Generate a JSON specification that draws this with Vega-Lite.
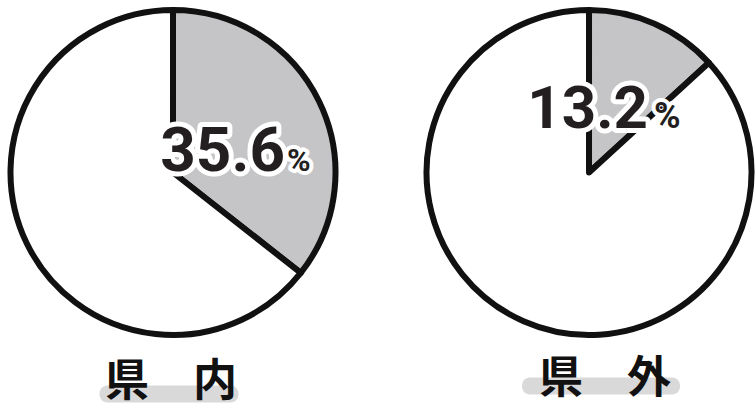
{
  "$schema": "https://vega.github.io/schema/vega-lite/v6.json",
  "background": "white",
  "padding": {"left": 7, "top": 0, "right": 0, "bottom": 0},
  "spacing": 0,
  "config": {"view": {"stroke": null}, "concat": {"spacing": 0}},
  "datasets": {
    "shares": [
      {"region": "県内", "label": "県\u3000内", "part": "yes", "value": 35.6},
      {"region": "県内", "label": "県\u3000内", "part": "no", "value": 64.4},
      {"region": "県外", "label": "県\u3000外", "part": "yes", "value": 13.2},
      {"region": "県外", "label": "県\u3000外", "part": "no", "value": 86.8}
    ]
  },
  "vconcat": [
    {
      "width": 748,
      "height": 345,
      "data": {"name": "shares"},
      "encoding": {
        "x": {"field": "region", "type": "nominal", "sort": ["県内", "県外"], "scale": {"type": "point", "padding": 0.399}, "axis": null}
      },
      "layer": [
        {
          "transform": [{"stack": "value", "groupby": ["region"], "sort": [{"field": "part", "order": "descending"}], "as": ["t0", "t1"]}],
          "mark": {"type": "arc", "radius": 162.5, "stroke": "#111111", "strokeWidth": 6, "strokeJoin": "round"},
          "encoding": {
            "theta": {"field": "t0", "type": "quantitative", "stack": null, "scale": {"domain": [0, 100], "range": [0, 6.2832]}},
            "theta2": {"field": "t1"},
            "color": {"field": "part", "type": "nominal", "scale": {"domain": ["yes", "no"], "range": ["#c5c5c7", "#ffffff"]}, "legend": null}
          }
        },
        {
          "transform": [{"filter": "datum.region === '県内' && datum.part === 'yes'"}],
          "mark": {"type": "text", "font": "Roboto", "fontWeight": 700, "fontSize": 62, "align": "right", "baseline": "alphabetic", "dx": 112, "dy": -2, "fill": "white", "stroke": "white", "strokeWidth": 10, "strokeJoin": "round"},
          "encoding": {"text": {"field": "value", "type": "quantitative", "format": ".1f"}}
        },
        {
          "transform": [{"filter": "datum.region === '県内' && datum.part === 'yes'"}],
          "mark": {"type": "text", "font": "Roboto", "fontWeight": 700, "fontSize": 32, "align": "left", "baseline": "alphabetic", "dx": 114, "dy": -2, "text": "%", "fill": "white", "stroke": "white", "strokeWidth": 8, "strokeJoin": "round"},
          "encoding": {}
        },
        {
          "transform": [{"filter": "datum.region === '県内' && datum.part === 'yes'"}],
          "mark": {"type": "text", "font": "Roboto", "fontWeight": 700, "fontSize": 62, "align": "right", "baseline": "alphabetic", "dx": 112, "dy": -2, "fill": "#231f20"},
          "encoding": {"text": {"field": "value", "type": "quantitative", "format": ".1f"}}
        },
        {
          "transform": [{"filter": "datum.region === '県内' && datum.part === 'yes'"}],
          "mark": {"type": "text", "font": "Roboto", "fontWeight": 700, "fontSize": 32, "align": "left", "baseline": "alphabetic", "dx": 114, "dy": -2, "text": "%", "fill": "#231f20"},
          "encoding": {}
        },
        {
          "transform": [{"filter": "datum.region === '県外' && datum.part === 'yes'"}],
          "mark": {"type": "text", "font": "Roboto", "fontWeight": 700, "fontSize": 60, "align": "right", "baseline": "alphabetic", "dx": 59, "dy": -45, "fill": "white", "stroke": "white", "strokeWidth": 10, "strokeJoin": "round"},
          "encoding": {"text": {"field": "value", "type": "quantitative", "format": ".1f"}}
        },
        {
          "transform": [{"filter": "datum.region === '県外' && datum.part === 'yes'"}],
          "mark": {"type": "text", "font": "Roboto", "fontWeight": 700, "fontSize": 36, "align": "left", "baseline": "alphabetic", "dx": 65, "dy": -45, "text": "%", "fill": "white", "stroke": "white", "strokeWidth": 8, "strokeJoin": "round"},
          "encoding": {}
        },
        {
          "transform": [{"filter": "datum.region === '県外' && datum.part === 'yes'"}],
          "mark": {"type": "text", "font": "Roboto", "fontWeight": 700, "fontSize": 60, "align": "right", "baseline": "alphabetic", "dx": 59, "dy": -45, "fill": "#231f20"},
          "encoding": {"text": {"field": "value", "type": "quantitative", "format": ".1f"}}
        },
        {
          "transform": [{"filter": "datum.region === '県外' && datum.part === 'yes'"}],
          "mark": {"type": "text", "font": "Roboto", "fontWeight": 700, "fontSize": 36, "align": "left", "baseline": "alphabetic", "dx": 65, "dy": -45, "text": "%", "fill": "#231f20"},
          "encoding": {}
        }
      ]
    },
    {
      "width": 748,
      "height": 66,
      "data": {"name": "shares"},
      "transform": [{"filter": "datum.part === 'yes'"}],
      "encoding": {
        "x": {"field": "region", "type": "nominal", "sort": ["県内", "県外"], "scale": {"type": "point", "padding": 0.399}, "axis": null}
      },
      "layer": [
        {
          "transform": [{"filter": "datum.region === '県内'"}],
          "mark": {"type": "tick", "orient": "horizontal", "size": 139, "thickness": 17, "cornerRadius": 8, "color": "#d9d9d9", "opacity": 1, "xOffset": -4, "yOffset": 16}
        },
        {
          "transform": [{"filter": "datum.region === '県外'"}],
          "mark": {"type": "tick", "orient": "horizontal", "size": 158, "thickness": 17, "cornerRadius": 8, "color": "#d9d9d9", "opacity": 1, "xOffset": 12, "yOffset": 8}
        },
        {
          "transform": [{"filter": "datum.region === '県内'"}],
          "mark": {"type": "text", "font": "Noto Sans CJK JP", "fontWeight": "bold", "fontSize": 44, "color": "#111111", "baseline": "middle", "dx": -2, "dy": 5},
          "encoding": {"text": {"field": "label", "type": "nominal"}}
        },
        {
          "transform": [{"filter": "datum.region === '県外'"}],
          "mark": {"type": "text", "font": "Noto Sans CJK JP", "fontWeight": "bold", "fontSize": 44, "color": "#111111", "baseline": "middle", "dx": 16, "dy": 2},
          "encoding": {"text": {"field": "label", "type": "nominal"}}
        }
      ]
    }
  ]
}
